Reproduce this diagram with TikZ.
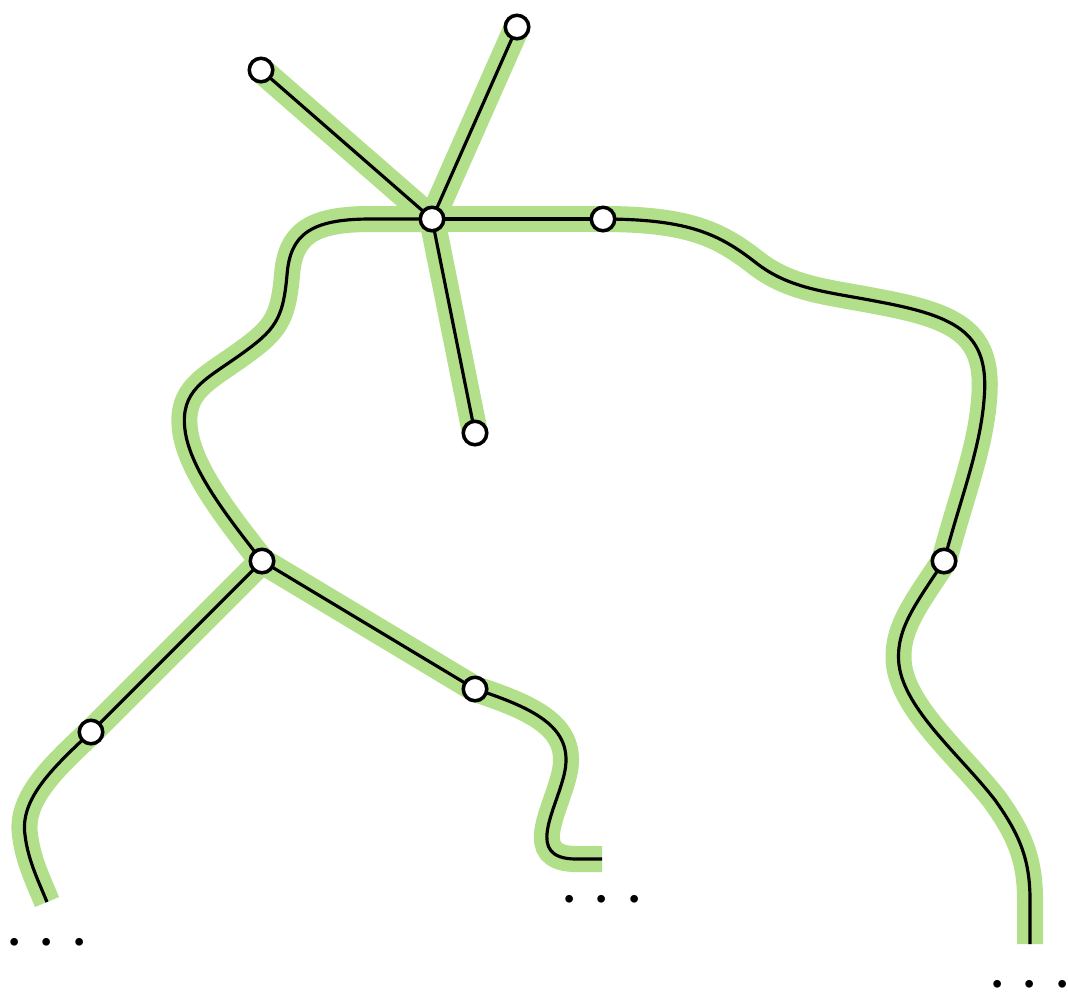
\documentclass[tikz,border=0pt]{standalone}
\usetikzlibrary{positioning,backgrounds}

\definecolor{leafgreen}{RGB}{178,223,138}

\tikzset{
  halo/.style={draw=leafgreen, line width=7.4pt},
  wire/.style={draw=black, line width=0.9pt},
  vtx/.style={circle, draw=black, fill=white, line width=1pt, minimum size=0.235cm, inner sep=0pt},
  more/.style={inner sep=0pt, font=\fontsize{21}{25}\selectfont},
}

\begin{document}
\begin{tikzpicture}[x=0.01cm, y=-0.01cm]
        \useasboundingbox (0,0) rectangle (1068,993);

        % vertices
        \node[vtx] (a) at (261,70) {};
        \node[vtx] (b) at (517,27) {};
        \node[vtx] (c) at (432,219) {};
        \node[vtx] (d) at (603,219) {};
        \node[vtx] (e) at (475,433) {};
        \node[vtx] (f) at (262,561) {};
        \node[vtx] (g) at (91,732) {};
        \node[vtx] (h) at (475,689) {};
        \node[vtx] (i) at (944,561) {};

        % loose ends
        \coordinate (gend) at (47,902);
        \coordinate (hend) at (602,859);
        \coordinate (iend) at (1030,944);

        \node[more, below=0.25cm of gend] (gdots) {$\cdots$};
        \node[more, below=0.25cm of hend] (hdots) {$\cdots$};
        \node[more, below=0.25cm of iend] (idots) {$\cdots$};

        \begin{pgfonlayer}{background}
        \foreach \sty in {halo, wire}{
          \draw[\sty] (c.center) -- (a.center);
          \draw[\sty] (c.center) -- (b.center);
          \draw[\sty] (c.center) -- (e.center);
          \draw[\sty] (c.center) -- (d.center);
          \draw[\sty] (c.center) -- (370,219) .. controls (310,219) and (290,235) .. (287,275)
                .. controls (283,320) and (275,330) .. (240,355)
                .. controls (205,380) and (180,390) .. (185,430)
                .. controls (190,470) and (230,520) .. (f.center);
          \draw[\sty] (d.center) .. controls (690,219) and (720,235) .. (755,262)
                .. controls (790,290) and (830,292) .. (880,302)
                .. controls (960,317) and (990,335) .. (984,400)
                .. controls (980,450) and (960,500) .. (i.center);
          \draw[\sty] (i.center) .. controls (915,605) and (895,630) .. (899,665)
                .. controls (905,710) and (960,755) .. (995,800)
                .. controls (1020,835) and (1030,860) .. (1030,900) -- (iend);
          \draw[\sty] (f.center) -- (g.center);
          \draw[\sty] (g.center) .. controls (50,770) and (20,800) .. (25,835)
                .. controls (28,860) and (38,880) .. (gend);
          \draw[\sty] (f.center) -- (h.center);
          \draw[\sty] (h.center) .. controls (540,710) and (575,730) .. (564,775)
                .. controls (555,812) and (525,858) .. (575,859) -- (hend);
        }
        \end{pgfonlayer}
\end{tikzpicture}
\end{document}
